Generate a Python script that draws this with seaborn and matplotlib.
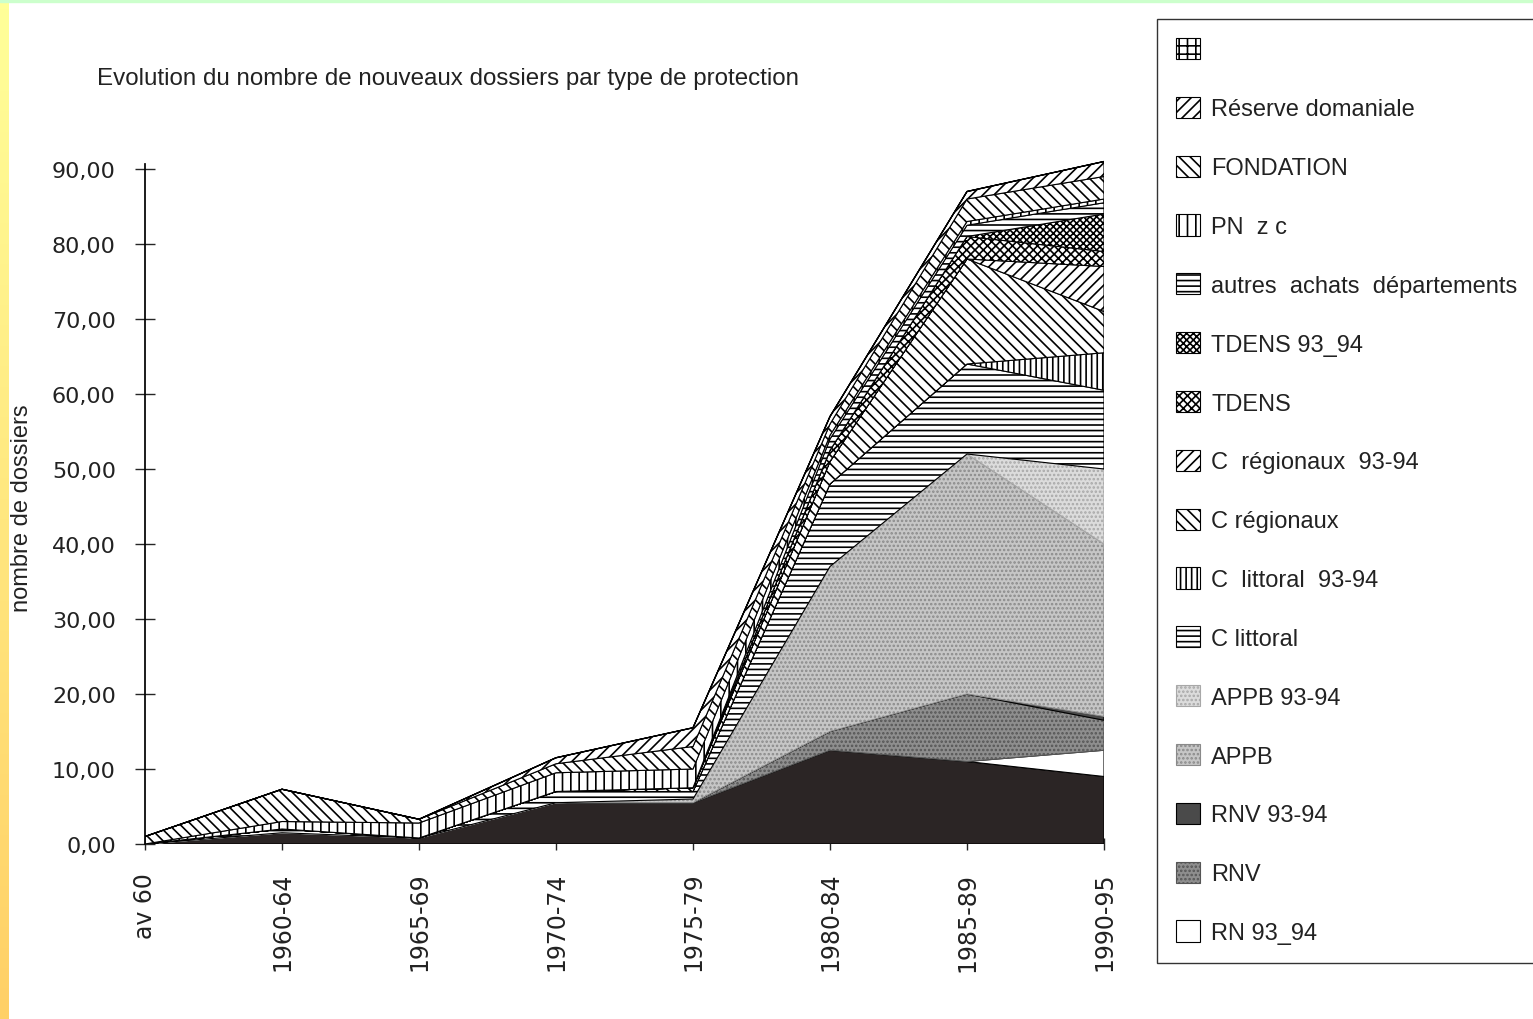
import numpy as np
import pandas as pd
import matplotlib
matplotlib.use("Agg")
import matplotlib.pyplot as plt
import seaborn as sns
from matplotlib.colors import LinearSegmentedColormap
from matplotlib.patches import Rectangle

# périodes (axe x)
periodes = ["av 60", "1960-64", "1965-69", "1970-74", "1975-79", "1980-84", "1985-89", "1990-95"]

# nouveaux dossiers par type de protection (bas de la pile -> haut)
rn                = [0.0, 1.5, 0.8, 5.5, 5.5, 12.5, 11.0, 9.0]
rn_93_94          = [0.0, 0.0, 0.0, 0.0, 0.0, 0.0, 0.0, 3.5]
rnv               = [0.0, 0.0, 0.0, 0.0, 0.0, 2.5, 9.0, 4.0]
rnv_93_94         = [0.0, 0.0, 0.0, 0.0, 0.0, 0.0, 0.0, 0.5]
appb              = [0.0, 0.0, 0.0, 0.0, 0.5, 22.0, 32.0, 23.0]
appb_93_94        = [0.0, 0.0, 0.0, 0.0, 0.0, 0.0, 0.0, 10.0]
c_littoral        = [0.0, 0.5, 0.0, 1.5, 1.0, 11.0, 12.0, 10.5]
c_littoral_93_94  = [0.0, 0.0, 0.0, 0.0, 0.0, 0.0, 0.0, 5.0]
c_regionaux       = [0.0, 0.0, 0.0, 0.0, 0.5, 3.0, 14.0, 5.5]
c_regionaux_93_94 = [0.0, 0.0, 0.0, 0.0, 0.0, 0.0, 0.0, 6.0]
tdens             = [0.0, 0.0, 0.0, 0.0, 0.0, 1.5, 3.0, 2.0]
tdens_93_94       = [0.0, 0.0, 0.0, 0.0, 0.0, 0.0, 0.0, 5.0]
autres_achats     = [0.0, 0.0, 0.0, 0.0, 0.0, 1.5, 1.5, 1.5]
pn_zc             = [0.0, 1.0, 2.0, 2.5, 2.5, 0.5, 0.5, 0.5]
fondation         = [1.0, 4.3, 0.5, 1.2, 3.0, 1.5, 3.0, 3.0]
reserve_domaniale = [0.0, 0.0, 0.0, 0.8, 2.5, 1.0, 1.0, 2.0]
sans_nom          = [0.0, 0.0, 0.0, 0.0, 0.0, 0.0, 0.0, 0.0]

series = [rn, rn_93_94, rnv, rnv_93_94, appb, appb_93_94, c_littoral, c_littoral_93_94,
          c_regionaux, c_regionaux_93_94, tdens, tdens_93_94, autres_achats, pn_zc,
          fondation, reserve_domaniale, sans_nom]
noms = ["RN", "RN 93_94", "RNV", "RNV 93-94", "APPB", "APPB 93-94", "C littoral",
        "C  littoral  93-94", "C régionaux", "C  régionaux  93-94", "TDENS", "TDENS 93_94",
        "autres  achats  départements", "PN  z c", "FONDATION", "Réserve domaniale", ""]

# style de chaque couche : (couleur de fond, motif, couleur du motif)
styles = [
    ("#2b2525", "", "black"),
    ("white", "", "black"),
    ("#8e8e8e", "....", "#555555"),
    ("#4a4a4a", "", "black"),
    ("#c6c6c6", "....", "#8a8a8a"),
    ("#dcdcdc", "....", "#a8a8a8"),
    ("white", "---", "black"),
    ("white", "|||", "black"),
    ("white", "\\\\\\", "black"),
    ("white", "///", "black"),
    ("white", "xxxx", "black"),
    ("white", "xxxxx", "black"),
    ("white", "---", "black"),
    ("white", "||", "black"),
    ("white", "\\\\\\", "black"),
    ("white", "///", "black"),
    ("white", "++", "black"),
]

sns.set_theme(style="white")
plt.rcParams["font.family"] = ["Liberation Sans", "DejaVu Sans"]
plt.rcParams["hatch.linewidth"] = 1.2

fig = plt.figure(figsize=(15.33, 10.2), dpi=100)
fig.patch.set_facecolor("white")

# bandeau jaune à gauche et liseré vert en haut (fond de la diapo)
bande = fig.add_axes([0, 0, 9 / 1533, 1])
degrade = LinearSegmentedColormap.from_list("bande", ["#ffff99", "#ffd066"])
bande.imshow(np.linspace(0, 1, 100).reshape(-1, 1), aspect="auto", cmap=degrade)
bande.axis("off")
fig.patches.append(Rectangle((0, 1 - 3 / 1020), 1, 3 / 1020, transform=fig.transFigure,
                             color="#ccffcc", zorder=0))

ax = fig.add_axes([145 / 1533, 1 - 845 / 1020, (1104 - 145) / 1533, (845 - 155) / 1020])
x = np.arange(len(periodes))
polys = ax.stackplot(x, *series, labels=noms)
for poly, (fc, hatch, hc) in zip(polys, styles):
    poly.set_facecolor(fc)
    poly.set_hatch(hatch)
    poly.set_edgecolor(hc)
    poly.set_linewidth(0.8)

# contour supérieur de la pile
total = pd.DataFrame({"x": x, "total": np.sum(series, axis=0)})
sns.lineplot(data=total, x="x", y="total", color="black", linewidth=1.0, ax=ax, legend=False)
if ax.get_legend() is not None:
    ax.get_legend().remove()

ax.set_xlim(0, len(periodes) - 1)
ax.set_ylim(0, 92)
ax.set_yticks(np.arange(0, 91, 10))
ax.set_yticklabels([f"{v:.2f}".replace(".", ",") for v in np.arange(0, 91, 10)],
                   fontsize=16, family="DejaVu Sans")
ax.set_xticks(x)
ax.set_xticklabels(periodes, rotation=90, fontsize=17, family="DejaVu Sans")
ax.tick_params(axis="y", direction="inout", length=14, width=1, left=True, pad=14)
ax.tick_params(axis="x", direction="inout", length=8, width=1, bottom=True, pad=16)
for s in ["top", "right", "bottom"]:
    ax.spines[s].set_visible(False)
ax.spines["left"].set_color("black")
ax.spines["left"].set_bounds(0, 90.7)
ax.set_xlabel("")
ax.set_ylabel("")
ax.set_facecolor("white")
for t in ax.get_xticklabels() + ax.get_yticklabels():
    t.set_color("#222222")

fig.text(22 / 1533, 1 - 508 / 1020, "nombre de dossiers", rotation=90, fontsize=17,
         ha="center", va="center", color="#222222")
fig.text(97 / 1533, 1 - 79 / 1020, "Evolution du nombre de nouveaux dossiers par type de protection",
         fontsize=17.4, ha="left", va="center", color="#222222")

# légende : ordre inverse de la pile, la couche RN est coupée dans l'original
handles = polys[1:][::-1]
labels = noms[1:][::-1]
leg = fig.legend(handles, labels, loc="upper left", bbox_to_anchor=(1157 / 1533, 1 - 20 / 1020),
                 fontsize=17, frameon=True, fancybox=False, edgecolor="black",
                 handlelength=1.0, handleheight=1.0, labelspacing=1.49,
                 handletextpad=0.5, borderpad=0.8, borderaxespad=0)
leg.get_frame().set_linewidth(1.0)
for t in leg.get_texts():
    t.set_color("#222222")

fig.savefig("out.png", dpi=100)
